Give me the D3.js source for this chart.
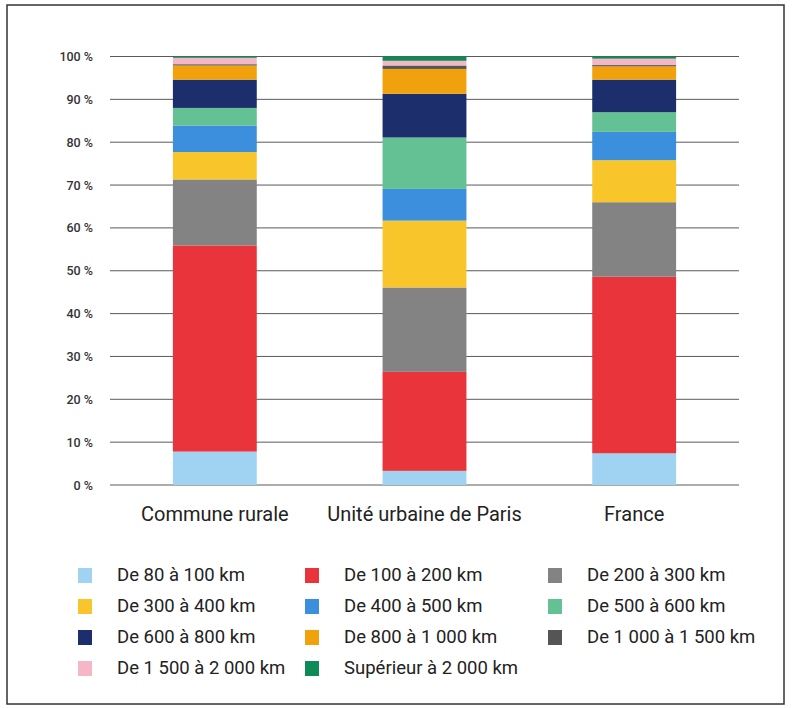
<!DOCTYPE html>
<html><head><meta charset="utf-8">
<script src="https://cdn.jsdelivr.net/npm/d3@7"></script>
<style>body{margin:0;background:#fff}svg{display:block;font-family:Roboto,"Noto Sans",sans-serif}</style>
</head><body><svg id="c" width="794" height="708"></svg>
<script>
const categories = ["Commune rurale", "Unité urbaine de Paris", "France"];
const seriesNames = ["De 80 à 100 km","De 100 à 200 km","De 200 à 300 km","De 300 à 400 km","De 400 à 500 km","De 500 à 600 km","De 600 à 800 km","De 800 à 1 000 km","De 1 000 à 1 500 km","De 1 500 à 2 000 km","Supérieur à 2 000 km"];
const seriesColors = ["#9fd3f1","#e8343a","#838383","#f8c62b","#3b8fdd","#63c193","#1c2f6c","#f1a10c","#555555","#f5b7c5","#0e8a56"];
const communeRurale = [7.8, 48.1, 15.4, 6.4, 6.2, 4.1, 6.6, 3.3, 0.3, 1.5, 0.3];
const uniteParis    = [3.3, 23.1, 19.7, 15.6, 7.4, 12.0, 10.2, 5.8, 0.8, 1.1, 1.0];
const france        = [7.4, 41.2, 17.4, 9.8, 6.6, 4.6, 7.6, 3.1, 0.3, 1.5, 0.5];
const tickValues = [0,10,20,30,40,50,60,70,80,90,100];
const tickLabels = ["0 %","10 %","20 %","30 %","40 %","50 %","60 %","70 %","80 %","90 %","100 %"];

const valuesByCat = [communeRurale, uniteParis, france];
const rows = categories.map((c,i)=>{const o={cat:c}; seriesNames.forEach((s,j)=>o[s]=valuesByCat[i][j]); return o;});
const stack = d3.stack().keys(seriesNames)(rows);

const svg = d3.select("#c");
svg.append("rect").attr("x",7).attr("y",5).attr("width",777).attr("height",699)
  .attr("fill","none").attr("stroke","#333").attr("stroke-width",1.5);

const x = d3.scaleBand().domain(categories).range([110,739]).paddingInner(0.6).paddingOuter(0.3);
const y = d3.scaleLinear().domain([0,100]).range([485,56.5]);

// grid
const grid = svg.append("g");
grid.selectAll("line").data(tickValues).join("line")
  .attr("x1",110).attr("x2",739).attr("y1",d=>y(d)).attr("y2",d=>y(d))
  .attr("stroke","#5a5a5a").attr("stroke-width",1);

// y axis labels
const yAxis = d3.axisLeft(y).tickValues(tickValues).tickFormat((d,i)=>tickLabels[i]).tickSize(0).tickPadding(0);
const ya = svg.append("g").attr("transform","translate(93,0)").call(yAxis);
ya.select(".domain").remove();
ya.selectAll("text").attr("font-size",12.5).attr("fill","#333").attr("font-weight",500).attr("font-family","Roboto,sans-serif");

// bars
svg.append("g").selectAll("g").data(stack).join("g").attr("fill",(d,i)=>seriesColors[i])
  .selectAll("rect").data(d=>d).join("rect")
  .attr("x",d=>x(d.data.cat)).attr("width",x.bandwidth())
  .attr("y",d=>y(d[1])).attr("height",d=>y(d[0])-y(d[1]));

// x axis labels
const xAxis = d3.axisBottom(x).tickSize(0).tickPadding(0);
const xa = svg.append("g").attr("transform","translate(0,514)").call(xAxis);
xa.select(".domain").remove();
xa.selectAll("text").attr("font-size",20).attr("fill","#222").attr("dy","0.35em").attr("font-family","Roboto,sans-serif");

// legend
const colX = [78,305,548];
const legend = svg.append("g");
seriesNames.forEach((s,i)=>{
  const c = i%3, r = Math.floor(i/3);
  const gx = colX[c], gy = 575 + r*31;
  legend.append("rect").attr("x",gx).attr("y",gy-7).attr("width",14).attr("height",15).attr("fill",seriesColors[i]);
  legend.append("text").attr("x",gx+39).attr("y",gy).attr("dy","0.35em")
    .attr("font-size",18.5).attr("fill","#222").text(s);
});
</script></body></html>
